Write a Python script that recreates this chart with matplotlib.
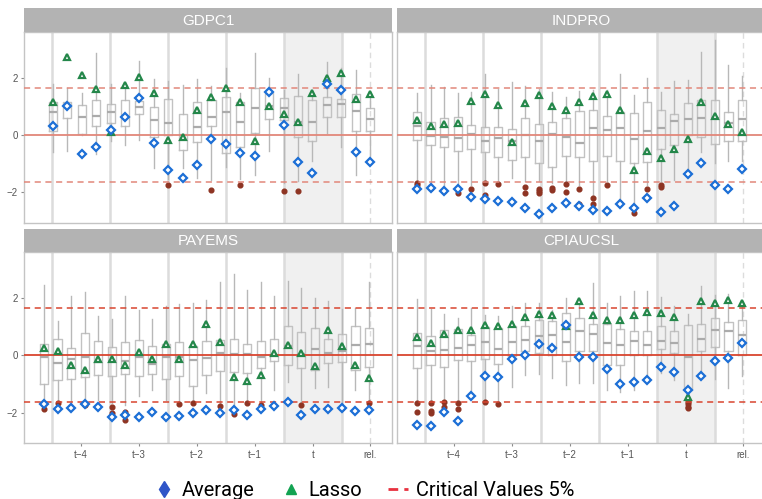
import numpy as np
import matplotlib
matplotlib.use("Agg")
import matplotlib.pyplot as plt
from matplotlib.lines import Line2D

# ---------------------------------------------------------------- data
panels = ["GDPC1", "INDPRO", "PAYEMS", "CPIAUCSL"]
group_labels = ["t\u22124", "t\u22123", "t\u22122", "t\u22121", "t", "rel."]
crit_value = 1.645

# GDPC1 (quarterly series, 23 release dates)
gdp_whislo = [-0.60, -0.58, 0.00, -0.67, -0.23, -0.37, -0.17, -1.16, -1.55, -1.16, -1.50, -1.58,
              -1.14, -1.55, -1.39, -0.56, -1.70, -1.60, -0.93, 0.06, -0.43, -1.39, -0.93]
gdp_q1 = [0.12, 0.57, 0.04, 0.29, 0.42, 0.29, 0.73, -0.06, 0.00, -0.52, -0.26, 0.32,
          -0.64, -0.43, 0.05, 0.54, 0.53, -0.09, -0.23, 0.61, 0.61, 0.14, 0.12]
gdp_med = [0.80, 0.98, 0.62, 0.65, 0.80, 0.62, 0.96, 0.51, 0.42, 0.00, 0.27, 0.62,
           0.81, 0.43, 0.93, 1.00, 0.92, 0.45, 0.43, 1.04, 1.09, 0.82, 0.56]
gdp_q3 = [1.14, 1.16, 1.05, 1.21, 1.07, 1.21, 1.19, 0.97, 1.26, 0.71, 1.16, 1.23,
          1.32, 1.16, 1.62, 1.45, 1.30, 1.37, 1.21, 1.33, 1.26, 1.43, 0.93]
gdp_whishi = [1.76, 1.62, 1.45, 2.84, 1.76, 1.75, 2.59, 1.95, 1.88, 1.74, 1.94, 1.72,
              2.32, 1.45, 2.86, 1.99, 1.58, 2.11, 1.50, 2.55, 2.34, 2.26, 1.44]
gdp_out = [[], [], [], [], [], [], [], [], [-1.76], [], [], [-1.94],
           [], [-1.76], [], [], [-1.95], [-1.95], [], [], [], [], []]
gdp_avg = [0.32, 1.00, -0.66, -0.43, 0.15, 0.61, 1.28, -0.30, -1.24, -1.52, -1.07, -0.16,
           -0.31, -0.65, -0.75, 1.50, 0.35, -0.95, -1.34, 1.77, 1.57, -0.59, -0.96]
gdp_lasso = [1.14, 2.70, 2.09, 1.60, 0.08, 1.74, 2.01, 1.46, -0.19, -0.08, 0.87, 1.32,
             1.62, 1.14, -0.21, 1.01, 0.74, 0.45, 1.47, 1.97, 2.17, 1.25, 1.44]

# INDPRO
ind_whislo = [-1.62, -1.74, -1.86, -1.74, -1.74, -1.57, -1.62, -1.50, -1.62, -1.62, -1.68, -1.62,
              -1.74, -2.09, -1.62, -2.32, -2.43, -1.74, -1.62, -1.58, -1.28, -0.60, -0.97, -0.90, -0.93]
ind_q1 = [-0.19, -0.36, -0.41, -0.58, -0.51, -0.61, -0.77, -0.88, -0.79, -1.00, -1.12, -0.75,
          -0.79, -0.90, -0.74, -0.90, -0.97, -0.95, -0.49, -0.34, -0.02, -0.09, -0.31, -0.23, -0.21]
ind_med = [0.32, -0.03, -0.08, -0.12, 0.02, -0.23, -0.12, -0.20, 0.00, -0.23, 0.02, -0.08,
           -0.28, 0.23, 0.16, 0.24, -0.15, 0.12, 0.22, 0.48, 0.56, 0.59, 0.60, 0.40, 0.56]
ind_q3 = [0.81, 0.44, 0.60, 0.63, 0.35, 0.26, 0.26, 0.19, 0.58, 0.39, 0.44, 0.57,
          0.83, 0.88, 0.64, 0.78, 0.75, 1.16, 0.86, 0.73, 1.11, 1.22, 1.22, 0.79, 1.21]
ind_whishi = [1.45, 1.74, 1.68, 1.45, 1.51, 2.12, 1.60, 1.83, 1.72, 1.60, 1.48, 1.33,
              1.53, 1.55, 1.57, 2.14, 1.39, 1.97, 1.51, 1.88, 1.91, 2.90, 3.30, 2.43, 2.05]
ind_out = [[-1.70, -1.75], [-1.87], [-1.95], [-2.03], [-1.88], [-1.70, -2.12], [-1.72], [],
           [-1.83, -2.05], [-1.91, -1.97, -2.03], [-1.86, -1.93], [-1.72, -1.99], [-1.89, -2.43],
           [-2.20, -2.40], [-1.74], [-2.38], [-2.55, -2.72], [-1.89], [-1.76, -1.83],
           [], [], [], [], [], []]
ind_avg = [-1.90, -1.87, -1.95, -1.89, -2.18, -2.23, -2.30, -2.34, -2.56, -2.76, -2.56, -2.38,
           -2.49, -2.62, -2.67, -2.40, -2.55, -2.20, -2.70, -2.49, -1.37, -0.99, -1.76, -1.89, -1.18]
ind_lasso = [0.51, 0.31, 0.38, 0.42, 1.17, 1.43, 1.03, -0.24, 1.11, 1.40, 1.01, 0.87,
             1.15, 1.36, 1.43, 0.85, -1.23, -0.56, -0.82, -0.51, -0.16, 1.15, 0.64, 0.38, 0.09]

# PAYEMS
pay_whislo = [-1.56, -1.62, -1.67, -1.60, -1.56, -1.67, -1.75, -1.44, -1.21, -1.56, -1.62, -1.56,
              -1.33, -1.67, -1.79, -1.62, -1.67, -1.21, -0.92, -1.70, -1.15, -1.12, -1.79, -1.21, -1.60]
pay_q1 = [-1.02, -0.86, -0.84, -0.75, -0.70, -0.72, -0.66, -0.73, -0.65, -0.83, -0.72, -1.07,
          -0.69, -0.57, -0.58, -0.63, -0.45, -0.19, -0.34, -0.45, -0.52, -0.28, -0.24, -0.53, -0.43]
pay_med = [-0.08, -0.27, -0.14, -0.07, -0.23, -0.20, -0.21, -0.07, -0.31, -0.05, -0.07, -0.16,
           -0.09, 0.09, 0.05, 0.05, -0.07, 0.00, 0.30, 0.03, 0.21, 0.07, 0.13, 0.36, 0.38]
pay_q3 = [0.40, 0.57, 0.26, 0.76, 0.49, 0.28, 0.47, 0.52, 0.30, 0.37, 0.44, 0.33,
          0.50, 0.53, 0.55, 0.37, 0.48, 0.56, 1.03, 0.79, 0.93, 0.56, 0.72, 1.00, 0.95]
pay_whishi = [2.45, 1.19, 2.05, 2.19, 1.37, 1.27, 2.07, 1.58, 1.26, 1.70, 1.78, 1.81,
              1.93, 2.53, 2.84, 2.26, 2.55, 2.05, 2.57, 2.34, 1.99, 1.87, 1.60, 1.64, 2.53]
pay_out = [[-1.88], [-1.65], [], [-1.72], [], [-1.79, -2.02], [-1.98, -2.26], [], [], [],
           [-1.70], [-1.65], [], [-1.76], [-2.06], [-1.67], [-1.73], [], [], [-1.73],
           [], [], [-1.83], [], [-1.67]]
pay_avg = [-1.69, -1.87, -1.85, -1.70, -1.81, -2.17, -2.07, -2.17, -1.98, -2.14, -2.12, -2.03,
           -1.92, -2.00, -1.91, -2.10, -1.88, -1.76, -1.64, -2.10, -1.88, -1.86, -1.83, -1.93, -1.92]
pay_lasso = [0.24, 0.13, -0.34, -0.51, -0.13, -0.15, -0.33, 0.12, -0.14, 0.37, -0.15, 0.40,
             1.10, 0.44, -0.77, -0.91, -0.70, 0.07, 0.34, 0.06, -0.38, 0.87, 0.31, -0.33, -0.78]

# CPIAUCSL
cpi_whislo = [-1.62, -1.62, -1.62, -1.62, -1.27, -1.58, -1.60, -1.12, -0.69, -0.66, -0.80, -1.03,
              -0.98, -0.98, -1.21, -1.27, -1.21, -0.92, -0.63, -0.86, -1.50, -0.80, -0.84, -1.15, -0.74]
cpi_q1 = [-0.45, -0.35, -0.40, -0.16, -0.20, -0.13, -0.31, -0.02, 0.16, 0.07, 0.00, -0.22,
          0.15, 0.13, -0.36, -0.36, 0.01, 0.01, 0.20, 0.07, -1.23, 0.15, 0.27, 0.13, 0.01]
cpi_med = [0.30, 0.16, 0.19, 0.26, 0.34, 0.44, 0.22, 0.44, 0.51, 0.65, 0.70, 0.47,
           0.83, 0.73, 0.41, 0.34, 0.48, 0.34, 0.50, 0.42, -0.08, 0.57, 0.87, 0.85, 0.69]
cpi_q3 = [0.77, 0.67, 0.88, 0.91, 0.71, 0.97, 0.93, 1.02, 1.03, 1.23, 1.20, 1.47,
          1.30, 1.08, 1.09, 0.90, 0.83, 0.85, 1.03, 0.83, 1.06, 1.08, 1.29, 1.14, 1.21]
cpi_whishi = [1.95, 1.60, 1.42, 1.29, 1.64, 1.38, 1.37, 1.70, 1.81, 1.81, 1.58, 2.00,
              1.75, 2.51, 1.81, 2.05, 2.22, 2.22, 2.01, 1.70, 1.43, 2.40, 2.10, 2.13, 1.90]
cpi_out = [[-1.66, -1.98], [-1.65, -1.95, -2.00], [-1.63, -1.79], [-1.67, -1.87], [], [-1.64],
           [-1.71], [], [], [], [], [], [], [], [], [], [], [], [], [],
           [-1.62, -1.71, -1.79, -1.85], [], [], [], []]
cpi_avg = [-2.44, -2.47, -1.98, -2.31, -1.44, -0.71, -0.77, -0.14, 0.00, 0.38, 0.24, 1.06,
           -0.07, -0.05, -0.48, -1.01, -0.94, -0.86, -0.40, -0.58, -1.22, -0.72, -0.19, -0.10, 0.41]
cpi_lasso = [0.63, 0.42, 0.72, 0.88, 0.86, 1.05, 1.02, 1.07, 1.34, 1.43, 1.41, 1.02,
             1.88, 1.38, 1.21, 1.21, 1.40, 1.49, 1.47, 1.31, -1.45, 1.90, 1.83, 1.93, 1.83]

# ---------------------------------------------------------------- layout
W, H = 762, 499
fig = plt.figure(figsize=(W / 100, H / 100), dpi=100)
plt.rcParams["font.family"] = ["Liberation Sans", "DejaVu Sans"]

# x axis in weeks: monthly groups are ~4.28 weeks wide
weekly_pos = np.arange(25, dtype=float)
quarterly_pos = 0.66 + 1.0645 * np.arange(23)
bounds = 0.59 + 4.284 * np.arange(6)
rel_x = 24.08
label_pos = list((bounds[:-1] + bounds[1:]) / 2) + [rel_x]
XLIM = (-1.477, 25.70)
YLIM = (-3.07, 3.60)

def frac_rect(x0, y0, x1, y1):
    return [x0 / W, 1 - y1 / H, (x1 - x0) / W, (y1 - y0) / H]

panel_px = [
    (24, 31.7, 392, 222.7, 8.3),
    (397, 31.7, 765, 222.7, 8.3),
    (24, 251.7, 392, 443.3, 229.0),
    (397, 251.7, 765, 443.3, 229.0),
]

series = [
    (quarterly_pos, gdp_whislo, gdp_q1, gdp_med, gdp_q3, gdp_whishi, gdp_out, gdp_avg, gdp_lasso),
    (weekly_pos, ind_whislo, ind_q1, ind_med, ind_q3, ind_whishi, ind_out, ind_avg, ind_lasso),
    (weekly_pos, pay_whislo, pay_q1, pay_med, pay_q3, pay_whishi, pay_out, pay_avg, pay_lasso),
    (weekly_pos, cpi_whislo, cpi_q1, cpi_med, cpi_q3, cpi_whishi, cpi_out, cpi_avg, cpi_lasso),
]

box_col = "#C2C2C2"
med_col = "#ABABAB"
vline_col = "#DCDCDC"
ref_cols = ["#E2877A", "#E2877A", "#D9452F", "#D9452F"]

for i, (title, (x0, y0, x1, y1, sy0), data) in enumerate(zip(panels, panel_px, series)):
    pos, wlo, q1, med, q3, whi, outs, avg, lasso = data
    ax = fig.add_axes(frac_rect(x0, y0, x1, y1))
    ax.set_xlim(*XLIM)
    ax.set_ylim(*YLIM)

    # current-period shading and group separators
    ax.axvspan(bounds[4], bounds[5], color="#F0F0F0", zorder=0, lw=0)
    for b in bounds:
        ax.axvline(b, color=vline_col, lw=1.8, zorder=1)
    ax.axvline(rel_x, color=vline_col, lw=1.0, ls=(0, (4, 3)), zorder=1)

    stats = [dict(whislo=a, q1=b, med=c, q3=d, whishi=e, fliers=f)
             for a, b, c, d, e, f in zip(wlo, q1, med, q3, whi, outs)]
    ax.bxp(stats, positions=pos, widths=0.6, showcaps=False, manage_ticks=False,
           boxprops=dict(color=box_col, lw=1.0),
           whiskerprops=dict(color="#B8B8B8", lw=1.0),
           medianprops=dict(color=med_col, lw=1.6),
           flierprops=dict(marker="o", markersize=3.4, markerfacecolor="#8E3423",
                           markeredgecolor="#8E3423", linestyle="none"),
           zorder=2)

    rc = ref_cols[i]
    ax.axhline(0, color=rc, lw=1.3, zorder=3)
    for c in (crit_value, -crit_value):
        ax.axhline(c, color=rc, lw=1.1, ls=(0, (4, 3)), zorder=3)

    ax.plot(pos, lasso, linestyle="none", marker="^", markersize=5.0,
            markerfacecolor="white", markeredgecolor="#24874A", markeredgewidth=1.6, zorder=5)
    ax.plot(pos, avg, linestyle="none", marker="D", markersize=3.7,
            markerfacecolor="white", markeredgecolor="#1C6FD6", markeredgewidth=1.6, zorder=6)

    for s in ax.spines.values():
        s.set_color("#C4C4C4")
        s.set_linewidth(1.0)
    ax.set_yticks([-2, 0, 2])
    ax.tick_params(axis="both", length=2.5, width=0.8, color="#8A8A8A",
                   labelsize=7, labelcolor="#555555", pad=2)
    if i % 2 == 1:
        ax.tick_params(axis="y", left=False, labelleft=False)
    ax.set_yticklabels(["\u22122", "0", "2"])
    if i >= 2:
        ax.set_xticks(label_pos)
        ax.set_xticklabels(group_labels)
    else:
        ax.set_xticks([])

    # facet strip
    sax = fig.add_axes(frac_rect(x0, sy0, x1, y0))
    sax.set_facecolor("#B3B3B3")
    sax.set_xticks([])
    sax.set_yticks([])
    for s in sax.spines.values():
        s.set_visible(False)
    sax.text(0.5, 0.47, title, ha="center", va="center", color="white", fontsize=11,
             transform=sax.transAxes)

# legend
handles = [
    Line2D([], [], linestyle="none", marker="d", markersize=8.5, color="#2F55C8"),
    Line2D([], [], linestyle="none", marker="^", markersize=7.5, color="#12A352"),
    Line2D([], [], color="#E8313F", lw=2.0, ls=(0, (3.5, 2.2))),
]
fig.legend(handles, ["Average", "Lasso", "Critical Values 5%"], loc="center",
           bbox_to_anchor=(0.478, 0.018), ncol=3, frameon=False,
           prop={"family": "Roboto", "size": 14.4}, handlelength=1.0,
           handletextpad=0.4, columnspacing=1.3, borderpad=0.0)

fig.savefig("out.png", dpi=100)
